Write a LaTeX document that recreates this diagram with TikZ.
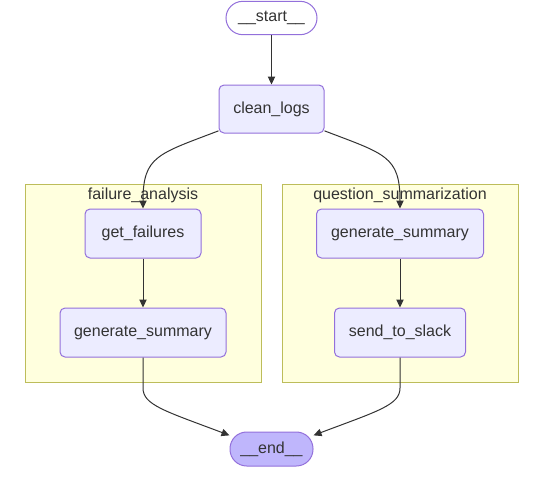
\documentclass[tikz,border=0pt]{standalone}
\usepackage{fontspec}
\setmainfont{Liberation Sans}
\usetikzlibrary{arrows.meta}

\definecolor{nodefill}{HTML}{ECECFF}
\definecolor{nodeborder}{HTML}{9370DB}
\definecolor{clusterfill}{HTML}{FFFFDE}
\definecolor{clusterborder}{HTML}{BDBD5A}
\definecolor{endfill}{HTML}{BFB6FC}
\definecolor{txtgray}{HTML}{333333}

\begin{document}
\begin{tikzpicture}[x=0.75pt,y=-0.75pt,
  every node/.style={font=\fontsize{12}{14}\selectfont, text=txtgray},
  box/.style={draw=nodeborder, fill=nodefill, rounded corners=3.75pt,
    minimum height=36.75pt, line width=0.75pt},
  pill/.style={draw=nodeborder, rounded corners=12.5pt, minimum height=25pt,
    line width=0.75pt},
  cluster/.style={draw=clusterborder, fill=clusterfill, line width=0.75pt,
    minimum width=177pt, minimum height=148.5pt},
  edge/.style={draw=txtgray, line width=0.75pt,
    -{Triangle[length=6pt,width=5.5pt]}}]
  \useasboundingbox (0,0) rectangle (551,476);

  % subgraphs
  \node[cluster] (fa) at (143,283) {};
  \node (falabel) at (143,195) {failure\_analysis};
  \node[cluster] (qs) at (400,283) {};
  \node (qslabel) at (400,195) {question\_summarization};

  % start and clean
  \node[pill, fill=white, minimum width=68.25pt] (start) at (271.5,18) {\_\_start\_\_};
  \node[box, minimum width=78.75pt, minimum height=36pt] (clean) at (271.5,109) {clean\_logs};

  % failure_analysis
  \node[box, minimum width=87pt] (getf) at (143,233.5) {get\_failures};
  \node[box, minimum width=124.5pt] (gensa) at (143,332.5) {generate\_summary};

  % question_summarization
  \node[box, minimum width=125.25pt] (gensb) at (400,233.5) {generate\_summary};
  \node[box, minimum width=98.25pt] (slack) at (400,332.5) {send\_to\_slack};

  % end
  \node[pill, fill=endfill, minimum width=62.25pt, minimum height=25.5pt] (end) at (271.5,449) {\_\_end\_\_};

  % edges
  \draw[edge] (start) -- (clean);
  \draw[edge] ([yshift=2pt]clean.south west) .. controls (158,154) and (143,156) .. (getf.north);
  \draw[edge] ([yshift=2pt]clean.south east) .. controls (385,154) and (400,156) .. (gensb.north);
  \draw[edge] (getf) -- (gensa);
  \draw[edge] (gensb) -- (slack);
  \draw[edge] (gensa.south) -- (143,388) .. controls (143,405) and (165,411) .. (end.162);
  \draw[edge] (slack.south) -- (400,388) .. controls (400,405) and (378,411) .. (end.18);
\end{tikzpicture}
\end{document}
